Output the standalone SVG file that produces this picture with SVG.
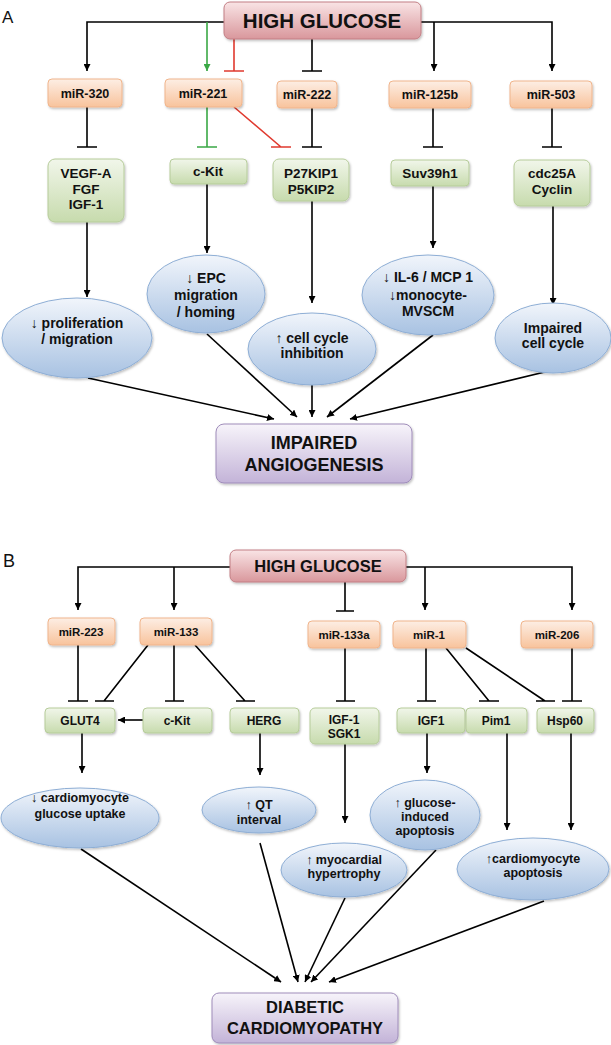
<svg xmlns="http://www.w3.org/2000/svg" width="611" height="1045" viewBox="0 0 611 1045">
<defs>
<linearGradient id="gPink" x1="0" y1="0" x2="0" y2="1"><stop offset="0" stop-color="#f9e4e5"/><stop offset="1" stop-color="#d9979c"/></linearGradient>
<linearGradient id="gOrange" x1="0" y1="0" x2="0" y2="1"><stop offset="0" stop-color="#fdeee4"/><stop offset="1" stop-color="#f8c39c"/></linearGradient>
<linearGradient id="gGreen" x1="0" y1="0" x2="0" y2="1"><stop offset="0" stop-color="#f1f6ea"/><stop offset="1" stop-color="#c7dbad"/></linearGradient>
<linearGradient id="gBlue" x1="0" y1="0" x2="0" y2="1"><stop offset="0" stop-color="#f1f5fb"/><stop offset="1" stop-color="#a8c2e2"/></linearGradient>
<linearGradient id="gPurple" x1="0" y1="0" x2="0" y2="1"><stop offset="0" stop-color="#f7f4fa"/><stop offset="1" stop-color="#c3b3d8"/></linearGradient>
<filter id="sh" x="-10%" y="-10%" width="130%" height="140%"><feDropShadow dx="1" dy="1.5" stdDeviation="1" flood-color="#000" flood-opacity="0.25"/></filter>
<marker id="ab" viewBox="0 0 10 10" refX="10" refY="5" markerWidth="7" markerHeight="7" markerUnits="userSpaceOnUse" orient="auto"><path d="M0,0 L10,5 L0,10 z" fill="#000"/></marker>
<marker id="ag" viewBox="0 0 10 10" refX="10" refY="5" markerWidth="7" markerHeight="7" markerUnits="userSpaceOnUse" orient="auto"><path d="M0,0 L10,5 L0,10 z" fill="#3aa845"/></marker>
</defs>
<style>
.t{font-family:"Liberation Sans",Arial,sans-serif;font-weight:bold;text-anchor:middle;fill:#111}
.lbl{font-family:"Liberation Sans",Arial,sans-serif;font-size:17px;fill:#111}
.pink{fill:url(#gPink);stroke:#c27e84;stroke-width:1}
.or{fill:url(#gOrange);stroke:#f0b58c;stroke-width:1}
.gr{fill:url(#gGreen);stroke:#b6cc9a;stroke-width:1}
.bl{fill:url(#gBlue);stroke:#8eaed5;stroke-width:1}
.pu{fill:url(#gPurple);stroke:#9f8cba;stroke-width:1}
.c{fill:none;stroke:#000;stroke-width:1.6}
.cg{fill:none;stroke:#3aa845;stroke-width:1.6}
.cr{fill:none;stroke:#e03a2f;stroke-width:1.6}
.a{marker-end:url(#ab)}
.ms{font-size:12.5px}
.gs{font-size:13.5px}
.es{font-size:14px}
.mb{font-size:11.5px}
.gb{font-size:12px}
.eb{font-size:12.5px}
</style>

<text class="lbl" x="2" y="23">A</text>
<text class="lbl" x="3" y="567" style="font-size:18px">B</text>

<g id="connectors">
<!-- Panel A -->
<path class="c a" d="M224,22 H87 V71"/>
<path class="c a" d="M421,22 H552 V71"/>
<path class="c a" d="M434,22 V71"/>
<path class="cg" d="M207,22 V71" marker-end="url(#ag)"/>
<path class="cr" d="M234,39 V71 M224,71 H244"/>
<path class="c" d="M312,39 V71 M302,71 H322"/>
<path class="c" d="M87,107 V147 M77,147 H97"/>
<path class="cg" d="M207,107 V147 M197,147 H217"/>
<path class="cr" d="M234,107 L281,147 M271,147 H291"/>
<path class="c" d="M312,108 V147 M302,147 H322"/>
<path class="c" d="M433,108 V147 M423,147 H443"/>
<path class="c" d="M552,108 V147 M542,147 H562"/>
<path class="c a" d="M87,222 V297"/>
<path class="c a" d="M207,184 V253"/>
<path class="c a" d="M312,201 V303"/>
<path class="c a" d="M433,186 V248"/>
<path class="c a" d="M553,206 V305"/>
<path class="c a" d="M88,378 L274,419"/>
<path class="c a" d="M207,334 L297,417"/>
<path class="c a" d="M312,385 L312,417"/>
<path class="c a" d="M433,335 L327,417"/>
<path class="c a" d="M553,370 L350,419"/>
<!-- Panel B -->
<path class="c a" d="M230,567 H78 V610"/>
<path class="c a" d="M174,567 V610"/>
<path class="c a" d="M406,567 H572 V610"/>
<path class="c a" d="M425,567 V610"/>
<path class="c" d="M345,582 V611 M336,611 H354"/>
<path class="c" d="M78,645 V701 M68,701 H88"/>
<path class="c" d="M148,645 L104,701 M95,701 H114"/>
<path class="c" d="M174,645 V701 M165,701 H184"/>
<path class="c" d="M195,645 L245,701 M236,701 H255"/>
<path class="c" d="M345,648 V701 M336,701 H355"/>
<path class="c" d="M426,648 V701 M417,701 H436"/>
<path class="c" d="M446,648 L489,701 M479,701 H499"/>
<path class="c" d="M466,648 L545,701 M536,701 H555"/>
<path class="c" d="M572,648 V701 M562,701 H582"/>
<path class="c a" d="M143,720 H118"/>
<path class="c a" d="M82,733 V773"/>
<path class="c a" d="M260,733 V775"/>
<path class="c a" d="M345,744 V823"/>
<path class="c a" d="M427,733 V773"/>
<path class="c a" d="M507,733 V830"/>
<path class="c a" d="M571,733 V830"/>
<path class="c a" d="M81,849 L281,982"/>
<path class="c a" d="M260,843 L298,982"/>
<path class="c a" d="M345,898 L305,982"/>
<path class="c a" d="M436,850 L311,982"/>
<path class="c a" d="M544,901 L329,982"/>
</g>

<!-- Panel A nodes -->
<g id="a-high-glucose"><rect class="pink" x="224" y="2" width="197" height="37" rx="6" filter="url(#sh)"/><text class="t" x="322" y="28" style="font-size:20.5px">HIGH GLUCOSE</text></g>
<g id="a-mir320"><rect class="or" x="48" y="79" width="74" height="28" rx="4" filter="url(#sh)"/><text class="t ms" x="85" y="97.5">miR-320</text></g>
<g id="a-mir221"><rect class="or" x="165" y="79" width="77" height="28" rx="4" filter="url(#sh)"/><text class="t ms" x="203" y="97.5">miR-221</text></g>
<g id="a-mir222"><rect class="or" x="277" y="81" width="60" height="27" rx="4" filter="url(#sh)"/><text class="t ms" x="307" y="99">miR-222</text></g>
<g id="a-mir125b"><rect class="or" x="389" y="81" width="82" height="27" rx="4" filter="url(#sh)"/><text class="t ms" x="430" y="99">miR-125b</text></g>
<g id="a-mir503"><rect class="or" x="510" y="81" width="82" height="27" rx="4" filter="url(#sh)"/><text class="t ms" x="551" y="99">miR-503</text></g>

<g id="a-vegf"><rect class="gr" x="48" y="159" width="76" height="63" rx="7" filter="url(#sh)"/><text class="t gs" x="86" y="178">VEGF-A</text><text class="t gs" x="86" y="193.5">FGF</text><text class="t gs" x="86" y="209">IGF-1</text></g>
<g id="a-ckit"><rect class="gr" x="170" y="159" width="77" height="25" rx="4" filter="url(#sh)"/><text class="t gs" x="208" y="176">c-Kit</text></g>
<g id="a-p27"><rect class="gr" x="273" y="159" width="76" height="42" rx="6" filter="url(#sh)"/><text class="t gs" x="311" y="178">P27KIP1</text><text class="t gs" x="311" y="194">P5KIP2</text></g>
<g id="a-suv"><rect class="gr" x="391" y="160" width="78" height="26" rx="4" filter="url(#sh)"/><text class="t gs" x="430" y="178">Suv39h1</text></g>
<g id="a-cdc"><rect class="gr" x="514" y="160" width="76" height="46" rx="6" filter="url(#sh)"/><text class="t gs" x="552" y="178">cdc25A</text><text class="t gs" x="552" y="194">Cyclin</text></g>

<g id="a-prolif"><ellipse class="bl" cx="77" cy="338" rx="75" ry="40" filter="url(#sh)"/><text class="t es" x="77" y="328">↓ proliferation</text><text class="t es" x="77" y="344">/ migration</text></g>
<g id="a-epc"><ellipse class="bl" cx="206" cy="294" rx="59" ry="39" filter="url(#sh)"/><text class="t es" x="206" y="283">↓ EPC</text><text class="t es" x="206" y="300">migration</text><text class="t es" x="206" y="317">/ homing</text></g>
<g id="a-cellcycle"><ellipse class="bl" cx="312" cy="349" rx="64" ry="36" filter="url(#sh)"/><text class="t es" x="312" y="343">↑ cell cycle</text><text class="t es" x="312" y="358">inhibition</text></g>
<g id="a-il6"><ellipse class="bl" cx="428" cy="295" rx="66" ry="40" filter="url(#sh)"/><text class="t es" x="428" y="282">↓ IL-6 / MCP 1</text><text class="t es" x="428" y="300">↓monocyte-</text><text class="t es" x="428" y="316">MVSCM</text></g>
<g id="a-impcc"><ellipse class="bl" cx="553" cy="338" rx="58" ry="35" filter="url(#sh)"/><text class="t es" x="553" y="333">Impaired</text><text class="t es" x="553" y="348">cell cycle</text></g>
<g id="a-angio"><rect class="pu" x="216" y="424" width="196" height="59" rx="8" filter="url(#sh)"/><text class="t" x="314" y="449" style="font-size:18px">IMPAIRED</text><text class="t" x="314" y="471" style="font-size:18px">ANGIOGENESIS</text></g>

<!-- Panel B nodes -->
<g id="b-high-glucose"><rect class="pink" x="230" y="550" width="176" height="32" rx="6" filter="url(#sh)"/><text class="t" x="318" y="572" style="font-size:16.5px">HIGH GLUCOSE</text></g>
<g id="b-mir223"><rect class="or" x="48" y="618" width="67" height="27" rx="4" filter="url(#sh)"/><text class="t mb" x="81" y="636">miR-223</text></g>
<g id="b-mir133"><rect class="or" x="140" y="618" width="72" height="27" rx="4" filter="url(#sh)"/><text class="t mb" x="176" y="636">miR-133</text></g>
<g id="b-mir133a"><rect class="or" x="308" y="621" width="72" height="27" rx="4" filter="url(#sh)"/><text class="t mb" x="344" y="639">miR-133a</text></g>
<g id="b-mir1"><rect class="or" x="393" y="621" width="73" height="27" rx="4" filter="url(#sh)"/><text class="t mb" x="429" y="639">miR-1</text></g>
<g id="b-mir206"><rect class="or" x="521" y="621" width="72" height="27" rx="4" filter="url(#sh)"/><text class="t mb" x="557" y="639">miR-206</text></g>

<g id="b-glut4"><rect class="gr" x="45" y="708" width="70" height="25" rx="4" filter="url(#sh)"/><text class="t gb" x="80" y="725">GLUT4</text></g>
<g id="b-ckit"><rect class="gr" x="143" y="708" width="69" height="25" rx="4" filter="url(#sh)"/><text class="t gb" x="177" y="725">c-Kit</text></g>
<g id="b-herg"><rect class="gr" x="230" y="708" width="69" height="25" rx="4" filter="url(#sh)"/><text class="t gb" x="264" y="725">HERG</text></g>
<g id="b-igf1sgk1"><rect class="gr" x="310" y="708" width="69" height="36" rx="5" filter="url(#sh)"/><text class="t gb" x="344" y="724">IGF-1</text><text class="t gb" x="344" y="738">SGK1</text></g>
<g id="b-igf1"><rect class="gr" x="397" y="708" width="68" height="25" rx="4" filter="url(#sh)"/><text class="t gb" x="431" y="725">IGF1</text></g>
<g id="b-pim1"><rect class="gr" x="466" y="708" width="61" height="25" rx="4" filter="url(#sh)"/><text class="t gb" x="496" y="725">Pim1</text></g>
<g id="b-hsp60"><rect class="gr" x="537" y="708" width="57" height="25" rx="4" filter="url(#sh)"/><text class="t gb" x="565" y="725">Hsp60</text></g>

<g id="b-glucose-uptake"><ellipse class="bl" cx="80" cy="818" rx="79" ry="30" filter="url(#sh)"/><text class="t eb" x="80" y="802">↓ cardiomyocyte</text><text class="t eb" x="80" y="818">glucose uptake</text></g>
<g id="b-qt"><ellipse class="bl" cx="259" cy="810" rx="57" ry="23" filter="url(#sh)"/><text class="t eb" x="259" y="809">↑ QT</text><text class="t eb" x="259" y="824">interval</text></g>
<g id="b-glucose-apop"><ellipse class="bl" cx="425" cy="815" rx="55" ry="35" filter="url(#sh)"/><text class="t eb" x="425" y="807">↑ glucose-</text><text class="t eb" x="425" y="821">induced</text><text class="t eb" x="425" y="835">apoptosis</text></g>
<g id="b-hypertrophy"><ellipse class="bl" cx="344" cy="870" rx="63" ry="27" filter="url(#sh)"/><text class="t eb" x="344" y="864">↑ myocardial</text><text class="t eb" x="344" y="878">hypertrophy</text></g>
<g id="b-cardio-apop"><ellipse class="bl" cx="533" cy="869" rx="76" ry="31" filter="url(#sh)"/><text class="t eb" x="533" y="863">↑cardiomyocyte</text><text class="t eb" x="533" y="877">apoptosis</text></g>
<g id="b-dcm"><rect class="pu" x="212" y="993" width="186" height="50" rx="7" filter="url(#sh)"/><text class="t" x="305" y="1013" style="font-size:16.5px">DIABETIC</text><text class="t" x="305" y="1034" style="font-size:16.5px">CARDIOMYOPATHY</text></g>
</svg>
